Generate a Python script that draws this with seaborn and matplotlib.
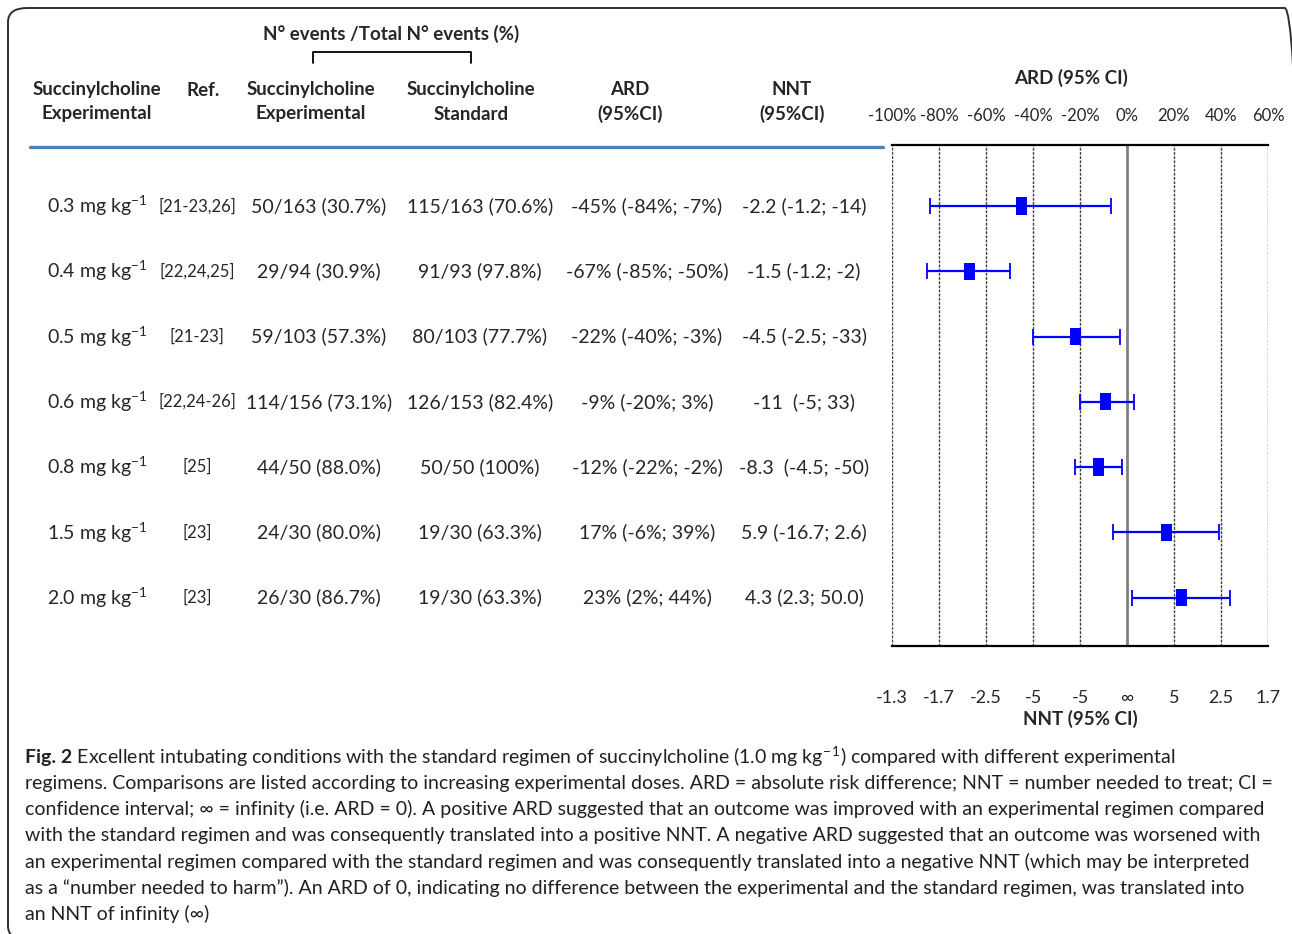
import numpy as np
import matplotlib
matplotlib.use("Agg")
import matplotlib.pyplot as plt
import matplotlib.transforms as mtransforms
from matplotlib.patches import FancyBboxPatch
import seaborn as sns

sns.set_style("white")
plt.rcParams['font.family'] = ['Lato', 'DejaVu Sans']
plt.rcParams['mathtext.default'] = 'regular'

# table data
doses = ["0.3", "0.4", "0.5", "0.6", "0.8", "1.5", "2.0"]
refs = ["[21-23,26]", "[22,24,25]", "[21-23]", "[22,24-26]", "[25]", "[23]", "[23]"]
exp_events = ["50/163 (30.7%)", "29/94 (30.9%)", "59/103 (57.3%)", "114/156 (73.1%)",
              "44/50 (88.0%)", "24/30 (80.0%)", "26/30 (86.7%)"]
std_events = ["115/163 (70.6%)", "91/93 (97.8%)", "80/103 (77.7%)", "126/153 (82.4%)",
              "50/50 (100%)", "19/30 (63.3%)", "19/30 (63.3%)"]
ard_txt = ["-45% (-84%; -7%)", "-67% (-85%; -50%)", "-22% (-40%; -3%)", "-9% (-20%; 3%)",
           "-12% (-22%; -2%)", "17% (-6%; 39%)", "23% (2%; 44%)"]
nnt_txt = ["-2.2 (-1.2; -14)", "-1.5 (-1.2; -2)", "-4.5 (-2.5; -33)", "-11  (-5; 33)",
           "-8.3  (-4.5; -50)", "5.9 (-16.7; 2.6)", "4.3 (2.3; 50.0)"]

# forest plot values (ARD, %)
ard = [-45, -67, -22, -9, -12, 17, 23]
ard_lo = [-84, -85, -40, -20, -22, -6, 2]
ard_hi = [-7, -50, -3, 3, -2, 39, 44]

ard_ticks = [-100, -80, -60, -40, -20, 0, 20, 40, 60]
ard_labels = ["-100%", "-80%", "-60%", "-40%", "-20%", "0%", "20%", "40%", "60%"]
nnt_labels = ["-1.3", "-1.7", "-2.5", "-5", "-5", "\u221e", "5", "2.5", "1.7"]

caption = [
    " Excellent intubating conditions with the standard regimen of succinylcholine (1.0 mg kg$^{\u2212\u20091}$) compared with different experimental",
    "regimens. Comparisons are listed according to increasing experimental doses. ARD = absolute risk difference; NNT = number needed to treat; CI =",
    "confidence interval; \u221e = infinity (i.e. ARD = 0). A positive ARD suggested that an outcome was improved with an experimental regimen compared",
    "with the standard regimen and was consequently translated into a positive NNT. A negative ARD suggested that an outcome was worsened with",
    "an experimental regimen compared with the standard regimen and was consequently translated into a negative NNT (which may be interpreted",
    "as a \u201cnumber needed to harm\u201d). An ARD of 0, indicating no difference between the experimental and the standard regimen, was translated into",
    "an NNT of infinity (\u221e)",
]

W, H = 1292, 934
fig = plt.figure(figsize=(W / 100, H / 100), dpi=100)


def fx(px):
    return px / W


def fy(py):
    return 1 - py / H


# forest axes
left, right, top, bottom = 892, 1268, 145, 646
ax = fig.add_axes([fx(left), fy(bottom), fx(right - left), (bottom - top) / H])
ax2 = ax.twiny()
rows = np.arange(len(ard))
err = np.array([np.array(ard) - np.array(ard_lo), np.array(ard_hi) - np.array(ard)])

for t in ard_ticks:
    if t == 0:
        ax.axvline(t, color="#808080", lw=2, zorder=1)
    else:
        ax.axvline(t, color="#404040", lw=1.0, ls=(0, (2, 1)), zorder=1)

ax.errorbar(ard, rows, xerr=err, fmt="none", ecolor="#0000ff", elinewidth=1.6,
            capsize=6, capthick=1.3, zorder=3)
rect = [(-0.32, -0.5), (0.32, -0.5), (0.32, 0.5), (-0.32, 0.5), (-0.32, -0.5)]
sns.scatterplot(x=ard, y=rows, marker=rect, s=155, color="#0000ff",
                edgecolor="none", ax=ax, zorder=4)

ax.set_xlim(-100, 60)
ax.set_ylim(6.74, -0.934)
ax.set_yticks([])
ax.xaxis.tick_top()
ax.set_xticks(ard_ticks)
ax.set_xticklabels(ard_labels, fontsize=12)
ax.tick_params(axis="x", length=0, pad=15)
for s in ["left", "right"]:
    ax.spines[s].set_visible(False)
for s in ["top", "bottom"]:
    ax.spines[s].set_color("black")
    ax.spines[s].set_linewidth(1.6)

ax2.set_xlim(ax.get_xlim())
ax2.xaxis.tick_bottom()
ax2.set_xticks(ard_ticks)
ax2.set_xticklabels(nnt_labels, fontsize=13)
ax2.tick_params(axis="x", length=0, pad=32)
for s in ax2.spines.values():
    s.set_visible(False)

fig.text(fx(1071), fy(78), "ARD (95% CI)", ha="center", va="center",
         fontsize=13.5, fontweight="bold")
fig.text(fx(1080), fy(719), "NNT (95% CI)", ha="center", va="center",
         fontsize=13.5, fontweight="bold")

# table header
hdr = dict(ha="center", va="center", fontsize=13.5, fontweight="bold", linespacing=1.5)
fig.text(fx(391), fy(34), "N\u00b0 events /Total N\u00b0 events (%)", **hdr)
fig.text(fx(97), fy(102), "Succinylcholine\nExperimental", **hdr)
fig.text(fx(203), fy(90), "Ref.", **hdr)
fig.text(fx(311), fy(102), "Succinylcholine\nExperimental", **hdr)
fig.text(fx(471), fy(102), "Succinylcholine\nStandard", **hdr)
fig.text(fx(630), fy(102), "ARD\n(95%CI)", **hdr)
fig.text(fx(792), fy(102), "NNT\n(95%CI)", **hdr)

fig.add_artist(plt.Line2D([fx(313), fx(313), fx(471), fx(471)],
                          [fy(63), fy(52), fy(52), fy(63)], color="black", lw=1.3))
fig.add_artist(plt.Line2D([fx(30), fx(883)], [fy(147), fy(147)],
                          color="#4f81bd", lw=2.4))

# table rows, tied to the forest rows
tr = mtransforms.blended_transform_factory(fig.transFigure, ax.transData)
cell = dict(ha="center", va="center", fontsize=14, transform=tr)
for i in rows:
    fig.text(fx(97), i, doses[i] + " mg kg$^{-1}$", **cell)
    fig.text(fx(197), i, refs[i], ha="center", va="center", fontsize=12, transform=tr)
    fig.text(fx(319), i, exp_events[i], **cell)
    fig.text(fx(480), i, std_events[i], **cell)
    fig.text(fx(647), i, ard_txt[i], **cell)
    fig.text(fx(804), i, nnt_txt[i], **cell)

# caption
cap_color = "#231f20"
fig_lbl = fig.text(fx(25), fy(757), "Fig. 2", ha="left", va="center", fontsize=14,
                   fontweight="bold", color=cap_color)
renderer = fig.canvas.get_renderer()
bb = fig_lbl.get_window_extent(renderer)
for k, line in enumerate(caption):
    x0 = bb.x1 / W if k == 0 else fx(25)
    fig.text(x0, fy(757 + 26.2 * k), line, ha="left", va="center", fontsize=14,
             color=cap_color)

# outer frame
frame = FancyBboxPatch((fx(8), fy(940)), fx(1304 - 8), (940 - 8) / H,
                       boxstyle="round,pad=0,rounding_size=0.015",
                       transform=fig.transFigure, fill=False, ec="#303030", lw=1.4)
fig.add_artist(frame)

fig.savefig("out.png", dpi=100)
